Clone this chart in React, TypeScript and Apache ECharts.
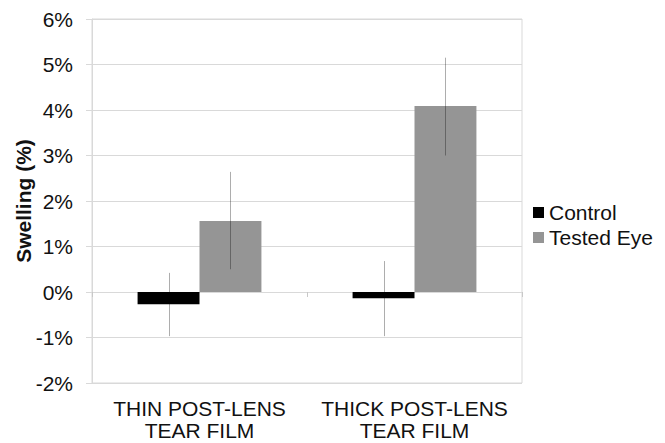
import React, { useEffect, useRef } from "react";
import * as echarts from "echarts";

const categories = ["THIN POST-LENS\nTEAR FILM", "THICK POST-LENS\nTEAR FILM"];
const controlValues = [-0.27, -0.14];
const testedValues = [1.56, 4.09];
const controlErrLow = [-0.97, -0.97];
const controlErrHigh = [0.42, 0.68];
const testedErrLow = [0.5, 3.0];
const testedErrHigh = [2.64, 5.15];
const yTicks = { min: -2, max: 6, interval: 1 };

const FONT = "'Liberation Sans', Arial, sans-serif";
const BAR_FRAC = 0.288;

function errSeries(name: string, low: number[], high: number[], sign: number) {
  return {
    type: "custom",
    name,
    xAxisIndex: 0,
    z: 10,
    silent: true,
    encode: { x: 0, y: [1, 2] },
    data: low.map((l, i) => [i, l, high[i]]),
    renderItem: (params: any, api: any) => {
      const idx = api.value(0);
      const p1 = api.coord([idx, api.value(1)]);
      const p2 = api.coord([idx, api.value(2)]);
      const band = api.size([1, 0])[0];
      const x = Math.round(p1[0] + (sign * band * BAR_FRAC) / 2) + 0.5;
      return {
        type: "line",
        shape: { x1: x, y1: p1[1], x2: x, y2: p2[1] },
        style: { stroke: "rgba(0,0,0,0.32)", lineWidth: 1 },
      };
    },
  };
}

export default function App() {
  const ref = useRef<HTMLDivElement>(null);
  useEffect(() => {
    if (!ref.current) return;
    const chart = echarts.init(ref.current, null, { renderer: "svg" });
    chart.setOption({
      animation: false,
      backgroundColor: "#fff",
      textStyle: { fontFamily: FONT },
      grid: {
        left: 92,
        top: 19,
        width: 430,
        height: 364,
        show: true,
        borderColor: "#d9d9d9",
        borderWidth: 1,
        backgroundColor: "transparent",
      },
      legend: {
        data: ["Control", "Tested Eye"],
        orient: "vertical",
        left: 533,
        top: 202,
        padding: 0,
        itemWidth: 11,
        itemHeight: 11,
        itemGap: 4,
        icon: "rect",
        textStyle: { fontSize: 21, color: "#111", fontFamily: FONT },
      },
      xAxis: [
        {
          type: "category",
          data: categories,
          position: "bottom",
          axisLine: { show: false, onZero: false },
          axisTick: { show: false },
          axisLabel: {
            fontSize: 21,
            lineHeight: 22,
            color: "#111",
            margin: 14,
            interval: 0,
            fontFamily: FONT,
          },
        },
        {
          type: "category",
          data: categories,
          position: "bottom",
          axisLine: { show: true, onZero: true, lineStyle: { color: "#d9d9d9", width: 1 } },
          axisTick: { show: true, length: 5, interval: 0, lineStyle: { color: "#c8c8c8" } },
          axisLabel: { show: false },
        },
      ],
      yAxis: {
        type: "value",
        min: yTicks.min,
        max: yTicks.max,
        interval: yTicks.interval,
        name: "Swelling (%)",
        nameLocation: "middle",
        nameGap: 58,
        nameMoveOverlap: false,
        nameTextStyle: { fontSize: 21, fontWeight: "bold", color: "#111", fontFamily: FONT },
        axisLine: { show: true, lineStyle: { color: "#d9d9d9" } },
        axisTick: { show: true, length: 6, lineStyle: { color: "#d9d9d9" } },
        splitLine: { show: true, lineStyle: { color: "#d9d9d9", width: 1 } },
        axisLabel: {
          formatter: "{value}%",
          fontSize: 21,
          color: "#111",
          margin: 19,
          fontFamily: FONT,
        },
      },
      series: [
        {
          type: "bar",
          name: "Control",
          data: controlValues,
          barWidth: BAR_FRAC * 100 + "%",
          barGap: "0%",
          itemStyle: { color: "#000" },
        },
        {
          type: "bar",
          name: "Tested Eye",
          data: testedValues,
          barWidth: BAR_FRAC * 100 + "%",
          barGap: "0%",
          itemStyle: { color: "#959595" },
        },
        errSeries("Control err", controlErrLow, controlErrHigh, -1),
        errSeries("Tested err", testedErrLow, testedErrHigh, 1),
      ],
    });
    return () => chart.dispose();
  }, []);
  return <div ref={ref} style={{ width: 665, height: 443, position: "absolute", left: 0, top: 0 }} />;
}
